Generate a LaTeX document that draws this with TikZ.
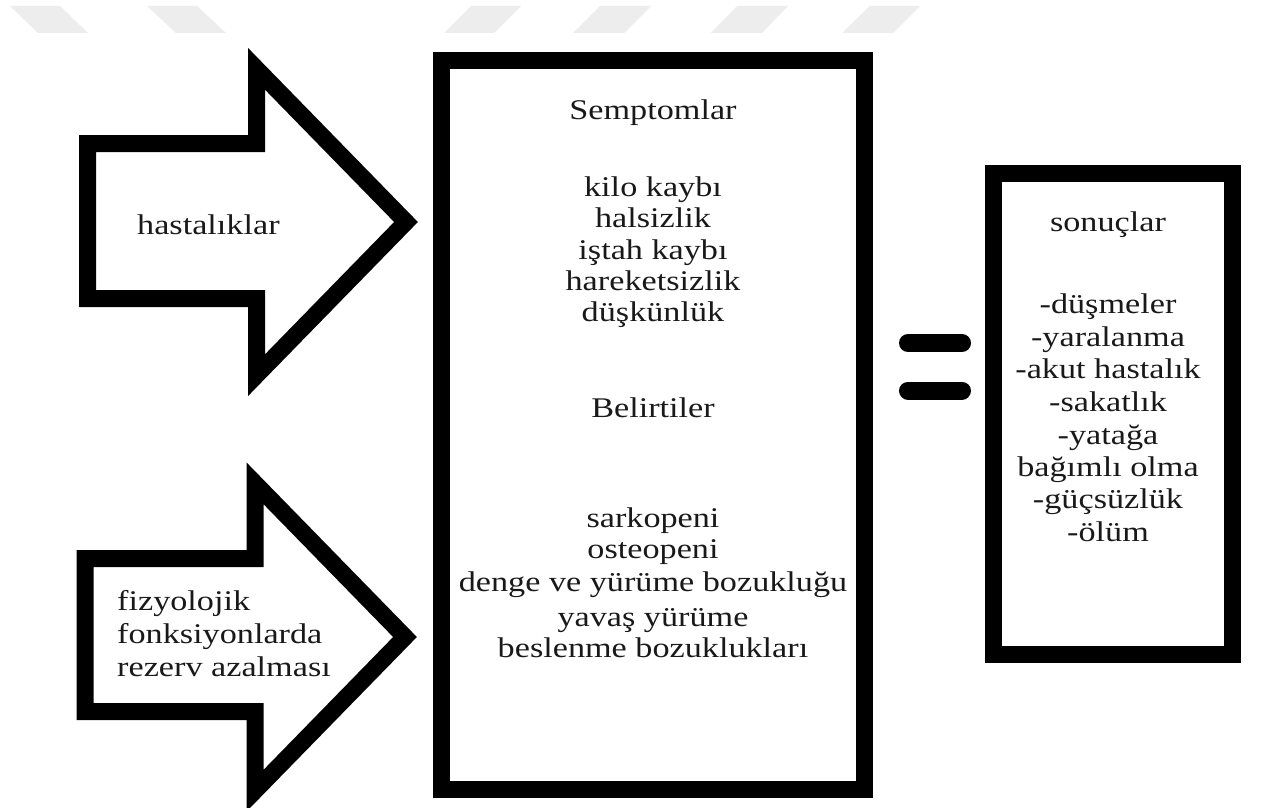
\documentclass[tikz,border=0pt]{standalone}
\usepackage{fontspec}
\setmainfont{Liberation Serif}[FakeStretch=1.2]
\begin{document}
\begin{tikzpicture}[x=1pt,y=-1pt,
  wm/.style={fill=black!7},
  heavy/.style={draw=black,line width=17pt,line join=miter},
  framebox/.style={heavy,fill=white,inner sep=0pt},
  lbl/.style={font=\fontsize{28.5}{33}\selectfont,text=black!90,inner sep=0pt},
  eqbar/.style={line width=18pt,line cap=round}]
\useasboundingbox (0,0) rectangle (1262,808);
\fill[white] (0,0) rectangle (1262,808);
% faint watermark
\fill[wm] (10,6) -- (60,6) -- (88,33) -- (38,33) -- cycle;
\fill[wm] (147,6) -- (197,6) -- (226,33) -- (176,33) -- cycle;
\fill[wm] (471,6) -- (521,6) -- (494,33) -- (444,33) -- cycle;
\fill[wm] (600,6) -- (651,6) -- (624,33) -- (573,33) -- cycle;
\fill[wm] (737,6) -- (788,6) -- (762,33) -- (711,33) -- cycle;
\fill[wm] (870,6) -- (920,6) -- (893,33) -- (842,33) -- cycle;
% block arrows
\draw[heavy] (87.5,143.5) -- (256.5,143.5) -- (256.5,68.8) -- (406,222)
  -- (256.5,375.2) -- (256.5,298.5) -- (87.5,298.5) -- cycle;
\draw[heavy] (85,558.5) -- (255,558.5) -- (255,483.3) -- (405,637)
  -- (255,790.7) -- (255,711.5) -- (85,711.5) -- cycle;
% boxes
\node[framebox,minimum width=423pt,minimum height=729pt] (mid) at (653,425) {};
\node[framebox,minimum width=239pt,minimum height=481pt] (res) at (1113,414) {};
% equals sign
\coordinate (e1a) at (908,343); \coordinate (e1b) at (962,343);
\coordinate (e2a) at (908,390.5); \coordinate (e2b) at (962,390.5);
\draw[eqbar] (e1a) -- (e1b);
\draw[eqbar] (e2a) -- (e2b);
% left texts
\node[lbl,anchor=base west] (has) at (137,234) {hastalıklar};
\node[lbl,anchor=base west] (fz1) at (117,610) {fizyolojik};
\node[lbl,anchor=base west] (fz2) at (117,643) {fonksiyonlarda};
\node[lbl,anchor=base west] (fz3) at (117,676) {rezerv azalması};
% middle texts
\foreach \t/\yy [count=\i] in {Semptomlar/119,kilo kaybı/196,halsizlik/227,iştah kaybı/259,
  hareketsizlik/290,düşkünlük/321,Belirtiler/417,sarkopeni/527,osteopeni/558,
  denge ve yürüme bozukluğu/591,yavaş yürüme/626,beslenme bozuklukları/657}
  \node[lbl,anchor=base] (m\i) at (653,\yy) {\t};
% right texts
\foreach \t/\yy [count=\i] in {sonuçlar/231,-düşmeler/313,-yaralanma/346,-akut hastalık/378,
  -sakatlık/411,-yatağa/444,bağımlı olma/476,-güçsüzlük/508,-ölüm/541}
  \node[lbl,anchor=base] (r\i) at (1108,\yy) {\t};
\end{tikzpicture}
\end{document}
